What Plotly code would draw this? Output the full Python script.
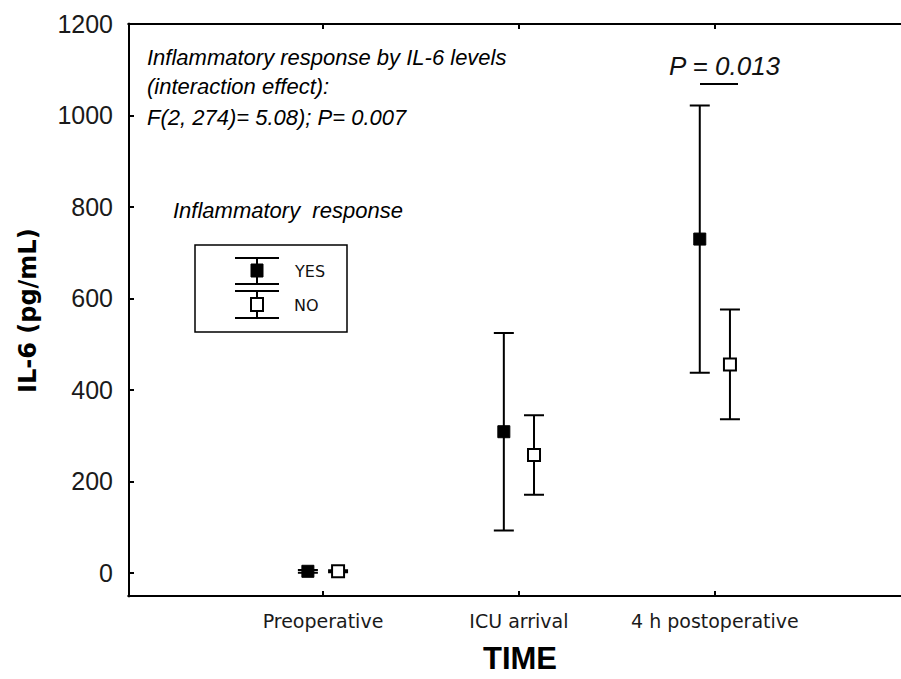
import plotly.graph_objects as go

# ---------------- data ----------------
categories = ["Preoperative", "ICU arrival", "4 h postoperative"]
yes_mean = [4, 309, 730]
yes_err = [3, 216, 292]
no_mean = [4, 258, 456]
no_err = [2, 87, 120]
y_tickvals = [0, 200, 400, 600, 800, 1000, 1200]
group_offset = 0.077

# ---------------- layout geometry (pixels) ----------------
W, H = 901, 679
ML, MR, MT, MB = 129, 0, 24, 83
PW, PH = W - ML - MR, H - MT - MB


def px(xp):
    return (xp - ML) / PW


def py(yp):
    return (H - MB - yp) / PH


fig = go.Figure()

xs = list(range(len(categories)))

fig.add_trace(go.Scatter(
    x=[i - group_offset for i in xs], y=yes_mean, mode="markers", name="YES",
    marker=dict(symbol="square", size=12, color="black", line=dict(color="black", width=1)),
    error_y=dict(type="data", array=yes_err, visible=True, color="black", thickness=2, width=10),
    cliponaxis=False,
))
fig.add_trace(go.Scatter(
    x=[i + group_offset for i in xs], y=no_mean, mode="markers", name="NO",
    marker=dict(symbol="square", size=12, color="white", line=dict(color="black", width=2)),
    error_y=dict(type="data", array=no_err, visible=True, color="black", thickness=2, width=10),
    cliponaxis=False,
))

axis_font = "Liberation Sans, Arial, sans-serif"

fig.update_layout(
    width=W, height=H, autosize=False,
    margin=dict(l=ML, r=MR, t=MT, b=MB, pad=0, autoexpand=False),
    paper_bgcolor="white", plot_bgcolor="white",
    showlegend=False,
    xaxis=dict(
        range=[-0.99, 2.95], tickvals=xs, ticktext=categories,
        showline=False, mirror="allticks",
        ticks="inside", ticklen=5, tickwidth=1.5, tickcolor="black",
        showgrid=False, zeroline=False, automargin=False,
        tickfont=dict(family="DejaVu Sans, sans-serif", size=19, color="#1a1a1a"),
        ticklabelstandoff=12,
    ),
    yaxis=dict(
        range=[-50, 1200], tickvals=y_tickvals,
        showline=False, mirror=False,
        ticks="inside", ticklen=5, tickwidth=1.5, tickcolor="black",
        showgrid=False, zeroline=False, automargin=False,
        tickfont=dict(family=axis_font, size=25, color="#1a1a1a"),
        ticklabelstandoff=15,
    ),
)

ann_font = dict(family=axis_font, size=22, color="black")
annotations = [
    dict(text="<i>Inflammatory response by IL-6 levels</i>", x=px(145), y=py(57)),
    dict(text="<i>(interaction effect):</i>", x=px(145), y=py(86)),
    dict(text="<i>F(2, 274)= 5.08); P= 0.007</i>", x=px(145), y=py(117)),
]
for a in annotations:
    fig.add_annotation(xref="paper", yref="paper", xanchor="left", yanchor="middle",
                       showarrow=False, font=ann_font, **a)

fig.add_annotation(xref="paper", yref="paper", x=px(288), y=py(211), xanchor="center", yanchor="middle",
                   text="<i>Inflammatory\u00a0 response</i>", showarrow=False,
                   font=dict(family=axis_font, size=22, color="black"))

fig.add_annotation(xref="paper", yref="paper", x=px(292), y=py(271), xanchor="left", yanchor="middle",
                   text="YES", showarrow=False, font=dict(family="DejaVu Sans, sans-serif", size=16, color="#111"))
fig.add_annotation(xref="paper", yref="paper", x=px(292), y=py(305), xanchor="left", yanchor="middle",
                   text="NO", showarrow=False, font=dict(family="DejaVu Sans, sans-serif", size=16, color="#111"))

fig.add_annotation(xref="paper", yref="paper", x=px(725), y=py(66), xanchor="center", yanchor="middle",
                   text="<i>P = 0.013</i>", showarrow=False,
                   font=dict(family=axis_font, size=26, color="#111"))

fig.add_annotation(xref="paper", yref="paper", x=px(520), y=py(658), xanchor="center", yanchor="middle",
                   text="<b>TIME</b>", showarrow=False,
                   font=dict(family=axis_font, size=31, color="black"))

fig.add_annotation(xref="paper", yref="paper", x=px(28), y=py(311), xanchor="center", yanchor="middle",
                   text="<b>IL-6 (pg/mL)</b>", textangle=-90, showarrow=False,
                   font=dict(family="DejaVu Sans, sans-serif", size=24, color="black"))


# frame lines, legend box, legend glyphs and P-value underline (decorations)
def seg(x0, y0, x1, y1, w=2):
    fig.add_shape(type="line", xref="paper", yref="paper",
                  x0=px(x0), x1=px(x1), y0=py(y0), y1=py(y1),
                  line=dict(color="black", width=w))


def box(x0, y0, x1, y1, fill, w=1.5):
    fig.add_shape(type="rect", xref="paper", yref="paper",
                  x0=px(x0), x1=px(x1), y0=py(y1), y1=py(y0),
                  line=dict(color="black", width=w), fillcolor=fill)


# frame: left axis line, top and bottom lines running to the right edge of the picture
fig.add_shape(type="line", xref="paper", yref="paper", x0=0, x1=0, y0=-0.002, y1=1.002,
              line=dict(color="black", width=2))
fig.add_shape(type="line", xref="paper", yref="paper", x0=-0.002, x1=1.02, y0=1, y1=1,
              line=dict(color="black", width=2))
fig.add_shape(type="line", xref="paper", yref="paper", x0=-0.002, x1=1.02, y0=0, y1=0,
              line=dict(color="black", width=2))

box(195, 245, 347, 332, "rgba(0,0,0,0)")
# YES glyph
seg(257, 258, 257, 284)
seg(235, 258, 279, 258)
seg(235, 284, 279, 284)
box(251, 264, 263, 277, "black", 1)
# NO glyph
seg(257, 291, 257, 318)
seg(235, 291, 279, 291)
seg(235, 318, 279, 318)
box(251, 298, 263, 311, "white", 2)
# P-value underline
seg(700, 84, 738, 84)

fig.write_html(
    "out.html",
    config={"displayModeBar": False},
    post_script=(
        "document.documentElement.style.overflow='hidden';"
        "document.body.style.margin='0';document.body.style.overflow='hidden';"
    ),
)
